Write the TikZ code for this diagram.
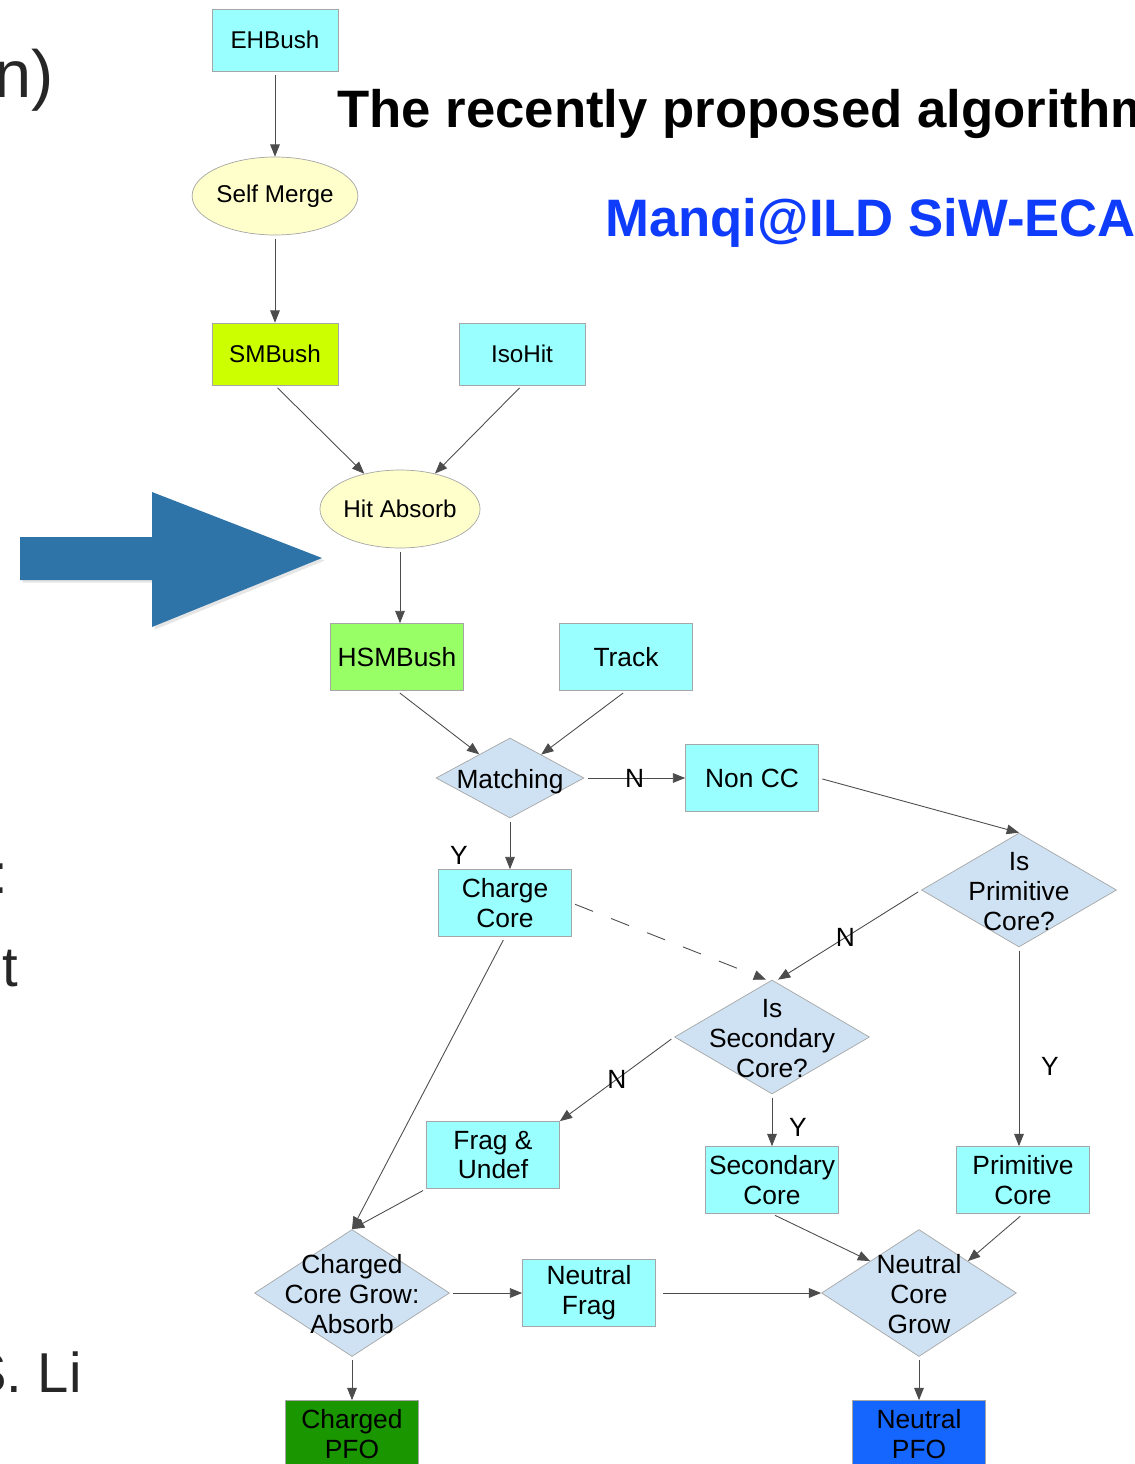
\documentclass[tikz,border=0pt]{standalone}
\usepackage{fontspec}
\setmainfont{Liberation Sans}
\usetikzlibrary{shapes.geometric,arrows.meta,shadows}
\definecolor{cyanbox}{HTML}{99FFFF}
\definecolor{yellowell}{HTML}{FFFFCC}
\definecolor{smcolor}{HTML}{CCFF00}
\definecolor{hsmcolor}{HTML}{99FF66}
\definecolor{decision}{HTML}{CFE2F3}
\definecolor{chpfocolor}{HTML}{1A9600}
\definecolor{npfocolor}{HTML}{1565FF}
\definecolor{bigarrow}{HTML}{2E74A8}
\definecolor{titleblue}{HTML}{0F3CFA}
% text of a diamond: takes no room, so the diamond keeps its size
\newcommand{\dtext}[1]{\makebox[0pt]{\smash{\raisebox{-0.42em}{\begin{tabular}[c]{@{}c@{}}#1\end{tabular}}}}}
\begin{document}
\begin{tikzpicture}[x=0.02cm,y=-0.02cm,
    every node/.style={inner sep=0pt},
    topfont/.style={font=\fontsize{13.8}{16}\selectfont},
    lowfont/.style={font=\fontsize{15}{17}\selectfont},
    topbox/.style={rectangle,draw=black!35,fill=cyanbox,minimum width=2.52cm,minimum height=1.24cm,topfont},
    blob/.style={ellipse,draw=black!35,fill=yellowell,minimum width=3.2cm,minimum height=1.56cm,topfont},
    lowbox/.style={rectangle,draw=black!35,fill=cyanbox,minimum width=2.66cm,minimum height=1.34cm,align=center,lowfont},
    decide/.style={diamond,draw=black!35,fill=decision,minimum width=3.9cm,minimum height=2.28cm,lowfont},
    link/.style={draw=black!70,line width=0.5pt,-{Triangle[length=7pt,width=5.5pt]},shorten <=2pt},
    yn/.style={lowfont}]
    \useasboundingbox (0,0) rectangle (1135,1464);
    % slide texts
    \node[anchor=base west,font=\fontsize{30}{36}\selectfont\bfseries] (title) at (337,127) {The recently proposed algorithm};
    \node[anchor=base west,font=\fontsize{30}{36}\selectfont\bfseries,text=titleblue] (author) at (605,236) {Manqi@ILD SiW-ECAL};
    \node[anchor=base west,font=\fontsize{38}{46}\selectfont,text=black!85] (cutparen) at (-6,97) {n)};
    \node[anchor=base east,font=\fontsize{32}{38}\selectfont,text=black!85] (cutcolon) at (8,893) {:};
    \node[anchor=base east,font=\fontsize{32}{38}\selectfont,text=black!85] (cutt) at (18,986) {t};
    \node[anchor=base east,font=\fontsize{32}{38}\selectfont,text=black!85] (cutname) at (82,1392) {S. Li};
    \fill[bigarrow,drop shadow={opacity=0.2,shadow xshift=1.5pt,shadow yshift=-1.5pt}] (20,537) -- (152,537) -- (152,492) -- (322,558) -- (152,627) -- (152,580) -- (20,580) -- cycle;
    % flow chart
    \node[topbox] (ehbush) at (275,40) {EHBush};
    \node[blob] (selfmerge) at (275,196) {Self Merge};
    \node[topbox,fill=smcolor] (smbush) at (275,354) {SMBush};
    \node[topbox] (isohit) at (522,354) {IsoHit};
    \node[blob] (hitabsorb) at (400,509) {Hit Absorb};
    \node[lowbox,fill=hsmcolor] (hsmbush) at (397,657) {HSMBush};
    \node[lowbox] (track) at (626,657) {Track};
    \node[decide,minimum width=2.96cm,minimum height=1.6cm] (matching) at (510,778) {\dtext{Matching}};
    \node[lowbox] (noncc) at (752,778) {Non CC};
    \node[lowbox] (chargecore) at (505,903) {Charge\\Core};
    \node[decide] (isprim) at (1019,890) {\dtext{Is\\Primitive\\Core?}};
    \node[decide] (issec) at (772,1037) {\dtext{Is\\Secondary\\Core?}};
    \node[lowbox] (frag) at (493,1155) {Frag \&\\Undef};
    \node[lowbox] (seccore) at (772,1180) {Secondary\\Core};
    \node[lowbox] (primcore) at (1023,1180) {Primitive\\Core};
    \node[decide,minimum height=2.54cm] (ccgrow) at (352,1293) {\dtext{Charged\\Core Grow:\\Absorb}};
    \node[lowbox] (neutralfrag) at (589,1293) {Neutral\\Frag};
    \node[decide,minimum height=2.54cm] (ncgrow) at (919,1293) {\dtext{Neutral\\Core\\Grow}};
    \node[lowbox,fill=chpfocolor] (chargedpfo) at (352,1434) {Charged\\PFO};
    \node[lowbox,fill=npfocolor] (neutralpfo) at (919,1434) {Neutral\\PFO};
    \draw[link] (ehbush) -- (selfmerge);
    \draw[link] (selfmerge) -- (smbush);
    \draw[link] (smbush.south) -- (hitabsorb);
    \draw[link] (isohit.south) -- (hitabsorb);
    \draw[link] (hitabsorb.south) -- (hitabsorb.south |- hsmbush.north);
    \draw[link] (hsmbush.south) -- (matching);
    \draw[link] (track.south) -- (matching);
    \draw[link] (matching) -- node[yn] (nmatch) {N} (noncc);
    \draw[link] (noncc.east) -- (isprim.north);
    \draw[link] (matching.south) -- node[yn,pos=0.72,xshift=-1.02cm] (ymatch) {Y} (matching.south |- chargecore.north);
    \draw[link,dashed,dash pattern=on 11pt off 11pt] (chargecore.east) -- ([xshift=-0.12cm]issec.north);
    \draw[link] (isprim.west) -- node[yn,pos=0.53] (nprim) {N} ([xshift=0.12cm]issec.north);
    \draw[link] (isprim.south) -- node[yn,pos=0.6,xshift=0.62cm] (yprim) {Y} (isprim.south |- primcore.north);
    \draw[link] (issec.west) -- node[yn] (nsec) {N} (frag.north east);
    \draw[link] (issec.south) -- node[yn,pos=0.64,xshift=0.52cm] (ysec) {Y} (seccore.north);
    \draw[link] (chargecore.south) -- (ccgrow.north);
    \draw[link] (frag.south west) -- (ccgrow.north);
    \draw[link] (ccgrow.east) -- (neutralfrag.west);
    \draw[link,shorten <=4pt] (neutralfrag.east) -- (ncgrow.west);
    \draw[link] (seccore.south) -- (ncgrow.north west);
    \draw[link] (primcore.south) -- (ncgrow.north east);
    \draw[link] (ccgrow.south) -- (chargedpfo.north);
    \draw[link] (ncgrow.south) -- (neutralpfo.north);
\end{tikzpicture}
\end{document}
